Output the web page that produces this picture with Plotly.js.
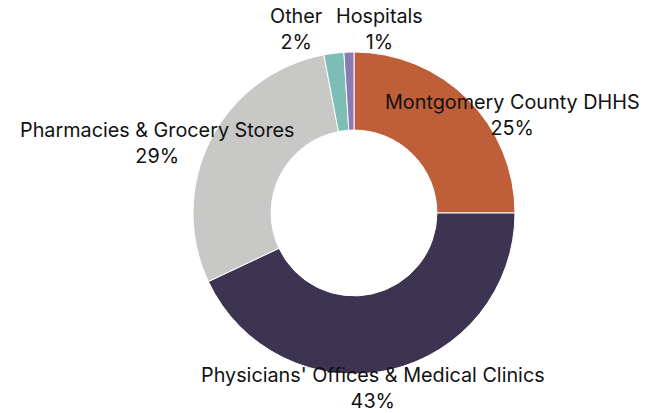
<!DOCTYPE html>
<html>
<head>
<meta charset="utf-8">
<script src="https://cdn.plot.ly/plotly-3.0.1.min.js"></script>
<style>html,body{margin:0;padding:0;background:#fff;}#chart{width:646px;height:413px;}</style>
</head>
<body>
<div id="chart"></div>
<script>
const categories = ["Montgomery County DHHS", "Physicians' Offices & Medical Clinics", "Pharmacies & Grocery Stores", "Other", "Hospitals"];
const shares = [25, 43, 29, 2, 1];
const colors = ["#BF5F3A", "#3D3452", "#C8C9C7", "#7CBDB5", "#8A7BB4"];

// label anchor points in pixels (layout only)
const labelPx = [[512, 115], [373, 388], [157, 143], [296, 29], [379, 29]];

const W = 646, H = 413;
const m = {l: 193, r: 131, t: 52, b: 39};
const pw = W - m.l - m.r, ph = H - m.t - m.b;

const annotations = categories.map((c, i) => ({
  text: c + "<br>" + shares[i] + "%",
  x: (labelPx[i][0] - m.l) / pw,
  y: (H - m.b - labelPx[i][1]) / ph,
  xref: "paper", yref: "paper",
  xanchor: "center", yanchor: "middle",
  showarrow: false,
  font: {family: "Inter, Roboto, sans-serif", size: 19.8, color: "#111"}
}));

const trace = {
  type: "pie",
  labels: categories,
  values: shares,
  hole: 0.515,
  sort: false,
  direction: "clockwise",
  rotation: 0,
  textinfo: "none",
  marker: {colors: colors, line: {color: "#ffffff", width: 1}},
  showlegend: false
};

Plotly.newPlot("chart", [trace], {
  width: W, height: H,
  margin: m,
  paper_bgcolor: "#fff",
  annotations: annotations,
  showlegend: false
}, {displayModeBar: false, staticPlot: true});
</script>
</body>
</html>
